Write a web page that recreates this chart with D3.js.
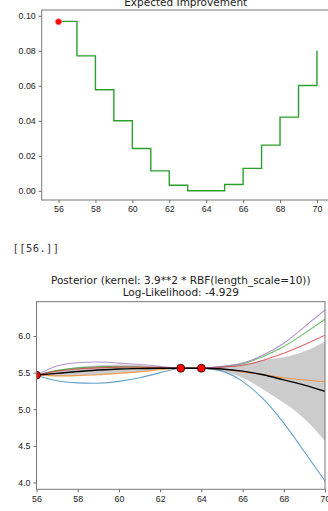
<!DOCTYPE html>
<html>
<head>
<meta charset="utf-8">
<script src="https://cdn.jsdelivr.net/npm/d3@7"></script>
<style>
  body { margin: 0; background: #fff; }
  svg { display: block; font-family: "DejaVu Sans", sans-serif; }
  .tick text { fill: #222; }
</style>
</head>
<body>
<div id="chart"></div>
<script>
// expected improvement, sampled at whole x values
const eiX = [56, 57, 58, 59, 60, 61, 62, 63, 64, 65, 66, 67, 68, 69, 70];
const eiY = [0.0968, 0.0771, 0.0577, 0.0400, 0.0242, 0.0114, 0.0032, 0.0, 0.0, 0.0036, 0.0128, 0.0261, 0.0421, 0.0602, 0.0800];
const eiBest = [56, 0.0966];

// posterior
const gridX = [56, 57, 58, 59, 60, 61, 62, 63, 64, 65, 66, 67, 68, 69, 70];
const meanY = [5.465, 5.49, 5.515, 5.535, 5.55, 5.555, 5.56, 5.56, 5.56, 5.55, 5.52, 5.47, 5.40, 5.33, 5.245];
const stdY  = [0.0, 0.04, 0.06, 0.065, 0.06, 0.045, 0.02, 0.0, 0.0, 0.03, 0.09, 0.2, 0.31, 0.46, 0.68];
const sampleBlue   = [5.465, 5.39, 5.36, 5.355, 5.38, 5.43, 5.50, 5.56, 5.56, 5.52, 5.38, 5.14, 4.81, 4.42, 4.02];
const sampleOrange = [5.465, 5.455, 5.46, 5.47, 5.49, 5.51, 5.54, 5.56, 5.56, 5.545, 5.51, 5.47, 5.43, 5.40, 5.375];
const sampleGreen  = [5.465, 5.53, 5.565, 5.58, 5.58, 5.575, 5.565, 5.56, 5.56, 5.58, 5.62, 5.72, 5.855, 6.035, 6.228];
const sampleRed    = [5.465, 5.52, 5.55, 5.565, 5.575, 5.575, 5.57, 5.56, 5.56, 5.575, 5.60, 5.67, 5.765, 5.88, 6.01];
const samplePurple = [5.465, 5.59, 5.635, 5.645, 5.63, 5.61, 5.585, 5.56, 5.56, 5.585, 5.63, 5.74, 5.90, 6.125, 6.355];
const obsX = [56, 63, 64];
const obsY = [5.465, 5.56, 5.56];

const xTicks = [56, 58, 60, 62, 64, 66, 68, 70];
const eiTicks = [0, 0.02, 0.04, 0.06, 0.08, 0.10];
const postTicks = [4.0, 4.5, 5.0, 5.5, 6.0];

const W = 328, H = 511;
const svg = d3.select("#chart").append("svg")
  .attr("width", W)
  .attr("height", H);

function frame(g, x, y, fmt) {
  const [x0, x1] = x.range();
  const [y0, y1] = y.range();
  g.append("g")
    .attr("transform", "translate(0," + y0 + ")")
    .call(d3.axisBottom(x).tickValues(xTicks).tickSize(3).tickPadding(3).tickFormat(d3.format("d")))
    .call(a => a.select(".domain").remove());
  g.append("g")
    .attr("transform", "translate(" + x0 + ",0)")
    .call(d3.axisLeft(y).tickValues(fmt.ticks).tickSize(3).tickPadding(3).tickFormat(d3.format(fmt.f)))
    .call(a => a.select(".domain").remove());
  g.selectAll(".tick text").style("font-size", "8.8px");
  g.selectAll(".tick line").attr("stroke", "#444").attr("stroke-width", 0.8);
  g.append("rect")
    .attr("x", x0).attr("y", y1)
    .attr("width", x1 - x0).attr("height", y0 - y1)
    .attr("fill", "none")
    .attr("stroke", "#777")
    .attr("stroke-width", 1);
}

// --- Expected Improvement ---
const xEi = d3.scaleLinear().domain([55.09, 70.69]).range([41.7, 329.7]);
const yEi = d3.scaleLinear().domain([-0.00526, 0.1033]).range([200, 10]);
const eiG = svg.append("g");

eiG.append("text")
  .attr("x", (41.7 + 329.7) / 2).attr("y", 5.5)
  .attr("text-anchor", "middle")
  .style("font-size", "10.5px").attr("fill", "#222")
  .text("Expected Improvement");

eiG.append("path")
  .datum(eiX.map((d, i) => [d, eiY[i]]))
  .attr("d", d3.line().x(d => xEi(d[0])).y(d => yEi(d[1])).curve(d3.curveStepAfter))
  .attr("fill", "none")
  .attr("stroke", "#2ca02c")
  .attr("stroke-width", 1.4);

eiG.append("circle")
  .attr("cx", xEi(eiBest[0])).attr("cy", yEi(eiBest[1]))
  .attr("r", 3)
  .attr("fill", "red")
  .attr("stroke", "#f66")
  .attr("stroke-width", 0.6);

frame(eiG, xEi, yEi, { ticks: eiTicks, f: ".2f" });

// --- printed array ---
svg.append("text")
  .attr("x", 12.5).attr("y", 252)
  .style("font-family", "'DejaVu Sans Mono', monospace")
  .style("font-size", "10.5px")
  .style("letter-spacing", "0.4px")
  .attr("fill", "#334")
  .text("[[56.]]");

// --- Posterior ---
const xPost = d3.scaleLinear().domain([56, 70]).range([36.5, 325]);
const yPost = d3.scaleLinear().domain([3.907, 6.468]).range([489.3, 301.7]);
const postG = svg.append("g");

postG.append("text")
  .attr("x", (36.5 + 325) / 2).attr("y", 283.5)
  .attr("text-anchor", "middle")
  .style("font-size", "10.5px").attr("fill", "#222")
  .text("Posterior (kernel: 3.9**2 * RBF(length_scale=10))");
postG.append("text")
  .attr("x", (36.5 + 325) / 2).attr("y", 295.5)
  .attr("text-anchor", "middle")
  .style("font-size", "10.5px").attr("fill", "#222")
  .text("Log-Likelihood: -4.929");

postG.append("clipPath").attr("id", "clip")
  .append("rect")
  .attr("x", 36.5).attr("y", 301.7)
  .attr("width", 325 - 36.5).attr("height", 489.3 - 301.7);

const plot = postG.append("g").attr("clip-path", "url(#clip)");

plot.append("path")
  .datum(gridX.map((d, i) => [d, meanY[i] - stdY[i], meanY[i] + stdY[i]]))
  .attr("d", d3.area().x(d => xPost(d[0])).y0(d => yPost(d[1])).y1(d => yPost(d[2])).curve(d3.curveNatural))
  .attr("fill", "#000")
  .attr("fill-opacity", 0.2);

const line2 = d3.line().x(d => xPost(d[0])).y(d => yPost(d[1])).curve(d3.curveNatural);

const samples = [
  { name: "blue", values: sampleBlue, color: "#1f77b4" },
  { name: "orange", values: sampleOrange, color: "#ff7f0e" },
  { name: "green", values: sampleGreen, color: "#2ca02c" },
  { name: "red", values: sampleRed, color: "#d62728" },
  { name: "purple", values: samplePurple, color: "#9467bd" }
];

plot.selectAll("sampleLines")
  .data(samples)
  .enter()
  .append("path")
    .attr("d", d => line2(gridX.map((x, i) => [x, d.values[i]])))
    .attr("fill", "none")
    .attr("stroke", d => d.color)
    .attr("stroke-opacity", 0.7)
    .attr("stroke-width", 1.1);

plot.append("path")
  .datum(gridX.map((d, i) => [d, meanY[i]]))
  .attr("d", line2)
  .attr("fill", "none")
  .attr("stroke", "#000")
  .attr("stroke-width", 1.4);

plot.selectAll("obs")
  .data(obsX.map((d, i) => [d, obsY[i]]))
  .enter()
  .append("circle")
    .attr("cx", d => xPost(d[0]))
    .attr("cy", d => yPost(d[1]))
    .attr("r", 4)
    .attr("fill", "red")
    .attr("stroke", "#000")
    .attr("stroke-width", 0.7);

frame(postG, xPost, yPost, { ticks: postTicks, f: ".1f" });
</script>
</body>
</html>
